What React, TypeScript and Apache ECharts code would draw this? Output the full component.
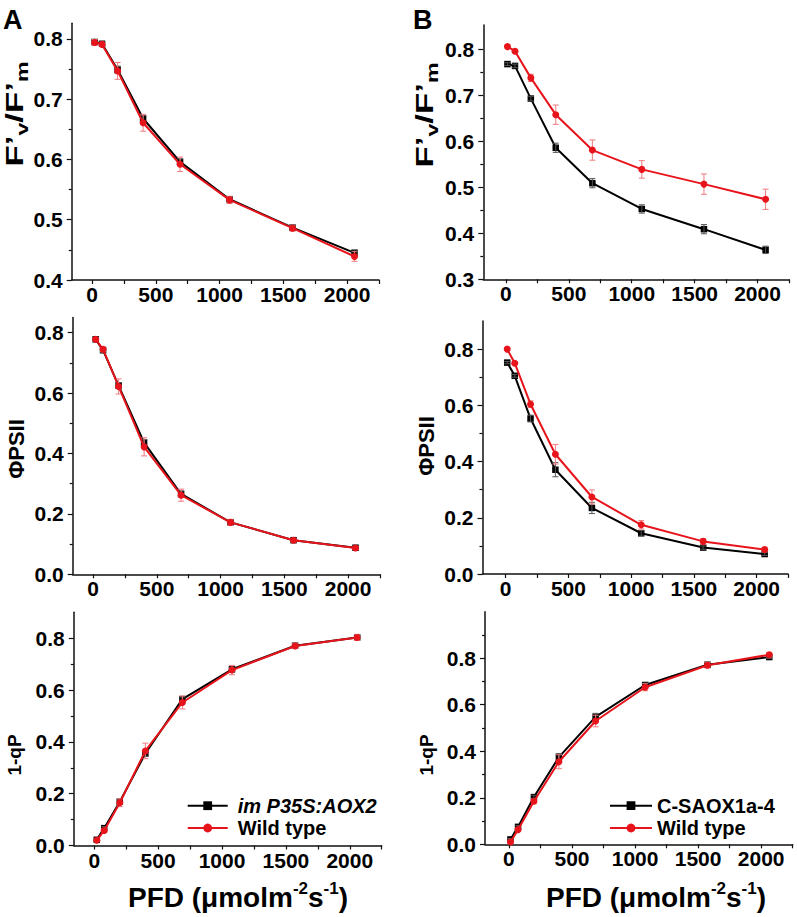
import React, { useEffect, useRef } from "react";
import * as echarts from "echarts";

// ---------- data ----------
const xA = [20, 78, 200, 400, 690, 1078, 1572, 2058];
const xB = [12, 72, 198, 396, 687, 1080, 1574, 2064];

const xTickValues = [0, 250, 500, 750, 1000, 1250, 1500, 1750, 2000, 2250];
const xLabelValues = [0, 500, 1000, 1500, 2000];

// Panel A (im P35S:AOX2 vs Wild type)
const fvfmA_T = [0.795, 0.792, 0.749, 0.668, 0.596, 0.534, 0.487, 0.445];
const fvfmA_W = [0.794, 0.791, 0.747, 0.661, 0.592, 0.533, 0.486, 0.439];
const fvfmA_Te = [0.004, 0.003, 0.006, 0.005, 0.005, 0.004, 0.004, 0.005];
const fvfmA_We = [0.005, 0.003, 0.014, 0.014, 0.012, 0.006, 0.005, 0.008];

const psiiA_T = [0.778, 0.742, 0.625, 0.436, 0.266, 0.172, 0.113, 0.088];
const psiiA_W = [0.778, 0.745, 0.622, 0.422, 0.262, 0.172, 0.113, 0.087];
const psiiA_Te = [0.005, 0.006, 0.01, 0.01, 0.01, 0.005, 0.004, 0.004];
const psiiA_We = [0.005, 0.008, 0.025, 0.03, 0.02, 0.01, 0.006, 0.005];

const qpA_T = [0.022, 0.067, 0.169, 0.355, 0.565, 0.68, 0.771, 0.803];
const qpA_W = [0.02, 0.058, 0.165, 0.365, 0.552, 0.677, 0.77, 0.803];
const qpA_Te = [0.004, 0.006, 0.01, 0.01, 0.008, 0.008, 0.006, 0.008];
const qpA_We = [0.004, 0.008, 0.015, 0.03, 0.025, 0.018, 0.01, 0.012];

// Panel B (C-SAOX1a-4 vs Wild type)
const fvfmB_T = [0.768, 0.764, 0.693, 0.586, 0.509, 0.453, 0.409, 0.364];
const fvfmB_W = [0.806, 0.796, 0.738, 0.658, 0.581, 0.539, 0.507, 0.474];
const fvfmB_Te = [0.003, 0.004, 0.005, 0.01, 0.01, 0.009, 0.01, 0.008];
const fvfmB_We = [0.003, 0.004, 0.008, 0.021, 0.022, 0.019, 0.022, 0.022];

const psiiB_T = [0.752, 0.705, 0.553, 0.371, 0.235, 0.145, 0.094, 0.071];
const psiiB_W = [0.8, 0.75, 0.604, 0.426, 0.274, 0.175, 0.116, 0.087];
const psiiB_Te = [0.004, 0.005, 0.012, 0.025, 0.02, 0.01, 0.006, 0.005];
const psiiB_We = [0.004, 0.005, 0.012, 0.035, 0.025, 0.015, 0.01, 0.008];

const qpB_T = [0.021, 0.075, 0.203, 0.375, 0.548, 0.685, 0.772, 0.805];
const qpB_W = [0.01, 0.063, 0.185, 0.355, 0.53, 0.675, 0.77, 0.815];
const qpB_Te = [0.004, 0.005, 0.008, 0.015, 0.015, 0.008, 0.01, 0.006];
const qpB_We = [0.004, 0.006, 0.01, 0.03, 0.025, 0.015, 0.012, 0.01];

const nameA = "im P35S:AOX2";
const nameB = "C-SAOX1a-4";
const nameWT = "Wild type";

const yMajorFv = [0.4, 0.5, 0.6, 0.7, 0.8];
const yMinorFv = [0.45, 0.55, 0.65, 0.75];
const yMajorFvB = [0.3, 0.4, 0.5, 0.6, 0.7, 0.8];
const yMinorFvB = [0.35, 0.45, 0.55, 0.65, 0.75];
const yMajor02 = [0, 0.2, 0.4, 0.6, 0.8];
const yMinor02 = [0.1, 0.3, 0.5, 0.7];
const yMinor02b = [0.1, 0.3, 0.5, 0.7, 0.9];

// ---------- layout / style ----------
const FONT = '"Liberation Sans", Arial, Helvetica, sans-serif';
const BLACK = "#000000";
const RED = "#e8141b";
const BLACK_ERR = "#555555";
const RED_ERR = "#f07a7e";

const panels = [
  { xs: xA, t: fvfmA_T, w: fvfmA_W, te: fvfmA_Te, we: fvfmA_We, tName: nameA,
    grid: { left: 71.7, top: 23.3, width: 307.3, height: 256.7 }, xMin: -160,
    yMin: 0.4, yMax: 0.826, yMajor: yMajorFv, yMinor: yMinorFv },
  { xs: xA, t: psiiA_T, w: psiiA_W, te: psiiA_Te, we: psiiA_We, tName: nameA,
    grid: { left: 72.7, top: 317.6, width: 307.3, height: 256.7 }, xMin: -160,
    yMin: 0, yMax: 0.85, yMajor: yMajor02, yMinor: yMinor02 },
  { xs: xA, t: qpA_T, w: qpA_W, te: qpA_Te, we: qpA_We, tName: nameA,
    grid: { left: 73.8, top: 612.3, width: 307.9, height: 233.2 }, xMin: -160,
    yMin: 0, yMax: 0.9, yMajor: yMajor02, yMinor: yMinor02 },
  { xs: xB, t: fvfmB_T, w: fvfmB_W, te: fvfmB_Te, we: fvfmB_We, tName: nameB,
    grid: { left: 483.3, top: 25, width: 305.7, height: 254.3 }, xMin: -180,
    yMin: 0.3, yMax: 0.853, yMajor: yMajorFvB, yMinor: yMinorFvB },
  { xs: xB, t: psiiB_T, w: psiiB_W, te: psiiB_Te, we: psiiB_We, tName: nameB,
    grid: { left: 482.5, top: 321, width: 305.5, height: 253 }, xMin: -185,
    yMin: 0, yMax: 0.9, yMajor: yMajor02, yMinor: yMinor02 },
  { xs: xB, t: qpB_T, w: qpB_W, te: qpB_Te, we: qpB_We, tName: nameB,
    grid: { left: 485, top: 611.7, width: 307.7, height: 232.6 }, xMin: -190,
    yMin: 0, yMax: 1.0, yMajor: yMajor02, yMinor: yMinor02b },
];

const axisLineStyle = { color: "#111", width: 1.5 };
const labelStyle = { fontSize: 21, fontWeight: "bold" as const, color: "#000", fontFamily: FONT };

function errSeries(name: string, xs: number[], ys: number[], es: number[], color: string, idx: number) {
  return {
    type: "custom",
    name,
    xAxisIndex: idx,
    yAxisIndex: idx * 2,
    z: 3,
    encode: { x: 0, y: [1, 2] },
    data: xs.map((x, i) => [x, ys[i] - es[i], ys[i] + es[i]]),
    renderItem: (params: any, api: any) => {
      const lo = api.coord([api.value(0), api.value(1)]);
      const hi = api.coord([api.value(0), api.value(2)]);
      const w = 3;
      const st = { stroke: color, lineWidth: 1 };
      return {
        type: "group",
        children: [
          { type: "line", shape: { x1: lo[0], y1: lo[1], x2: hi[0], y2: hi[1] }, style: st },
          { type: "line", shape: { x1: lo[0] - w, y1: lo[1], x2: lo[0] + w, y2: lo[1] }, style: st },
          { type: "line", shape: { x1: hi[0] - w, y1: hi[1], x2: hi[0] + w, y2: hi[1] }, style: st },
        ],
      };
    },
  };
}

function buildOption() {
  const grid = panels.map((p) => ({ ...p.grid }));
  const xAxis = panels.map((p, i) => ({
    type: "value",
    gridIndex: i,
    min: p.xMin,
    max: 2250,
    axisLine: { show: true, onZero: false, lineStyle: axisLineStyle },
    axisTick: { show: true, length: 4, customValues: xTickValues, lineStyle: { color: "#111", width: 1.2 } },
    axisLabel: {
      show: true,
      customValues: xLabelValues,
      margin: 4,
      formatter: (v: number) => String(Math.round(v)),
      ...labelStyle,
    },
    splitLine: { show: false },
  }));
  const yAxis: any[] = [];
  panels.forEach((p, i) => {
    yAxis.push({
      type: "value",
      gridIndex: i,
      position: "left",
      min: p.yMin,
      max: p.yMax,
      axisLine: { show: true, onZero: false, lineStyle: axisLineStyle },
      axisTick: { show: true, length: 5, customValues: p.yMajor, lineStyle: { color: "#111", width: 1.2 } },
      axisLabel: {
        show: true,
        customValues: p.yMajor,
        margin: 9,
        formatter: (v: number) => v.toFixed(1),
        ...labelStyle,
      },
      splitLine: { show: false },
    });
    yAxis.push({
      type: "value",
      gridIndex: i,
      position: "left",
      min: p.yMin,
      max: p.yMax,
      axisLine: { show: false, onZero: false },
      axisTick: { show: true, length: 3, customValues: p.yMinor, lineStyle: { color: "#111", width: 1.2 } },
      axisLabel: { show: false },
      splitLine: { show: false },
    });
  });

  const series: any[] = [];
  panels.forEach((p, i) => {
    series.push({
      type: "line",
      name: p.tName,
      xAxisIndex: i,
      yAxisIndex: i * 2,
      data: p.xs.map((x, k) => [x, p.t[k]]),
      symbol: "rect",
      symbolSize: 6.5,
      lineStyle: { color: BLACK, width: 2 },
      itemStyle: { color: BLACK },
      z: 2,
    });
    series.push(errSeries("errT" + i, p.xs, p.t, p.te, BLACK_ERR, i));
    series.push({
      type: "line",
      name: nameWT,
      xAxisIndex: i,
      yAxisIndex: i * 2,
      data: p.xs.map((x, k) => [x, p.w[k]]),
      symbol: "circle",
      symbolSize: 7,
      lineStyle: { color: RED, width: 2 },
      itemStyle: { color: RED },
      z: 4,
    });
    series.push(errSeries("errW" + i, p.xs, p.w, p.we, RED_ERR, i));
  });

  const legendRich = {
    it: { fontStyle: "italic", fontWeight: "bold", fontSize: 20, fontFamily: FONT, color: "#000", lineHeight: 22 },
    b: { fontWeight: "bold", fontSize: 20, fontFamily: FONT, color: "#000", lineHeight: 22 },
  };
  const legendFmt = (name: string) => (name === nameA ? `{it|${name}}` : `{b|${name}}`);
  const legend = [
    {
      data: [nameA, nameWT],
      orient: "vertical",
      left: 181.7,
      top: 790.7,
      itemWidth: 40,
      itemHeight: 11,
      itemGap: 2.3,
      selectedMode: false,
      formatter: legendFmt,
      textStyle: { rich: legendRich, padding: [0, 0, 0, 5] },
    },
    {
      data: [nameB, nameWT],
      orient: "vertical",
      left: 604,
      top: 790.7,
      itemWidth: 42,
      itemHeight: 11,
      itemGap: 2.3,
      selectedMode: false,
      formatter: legendFmt,
      textStyle: { rich: legendRich },
    },
  ];

  const titleRich = {
    a: { fontSize: 24, fontWeight: "bold", fontFamily: FONT, color: "#000", lineHeight: 30 },
    s: { fontSize: 16, fontWeight: "bold", fontFamily: FONT, color: "#000", lineHeight: 16, verticalAlign: "bottom" },
    p: { fontSize: 17, fontWeight: "bold", fontFamily: FONT, color: "#000", lineHeight: 17, verticalAlign: "top" },
    big: { fontSize: 28, fontWeight: "bold", fontFamily: FONT, color: "#000", lineHeight: 34 },
    y: { fontSize: 22, fontWeight: "bold", fontFamily: FONT, color: "#000", lineHeight: 24 },
    q: { fontSize: 19, fontWeight: "bold", fontFamily: FONT, color: "#000", lineHeight: 22 },
  };
  const yTitle = (text: string, x: number, y: number, scaleX = 1) => ({
    type: "text",
    x,
    y,
    rotation: Math.PI / 2,
    scaleX,
    style: { text, rich: titleRich, align: "center", verticalAlign: "middle" },
  });
  const fvText = "{a|F’}{s|v}{a|/F’}{s|m}";
  const pfdText = "{big|PFD (μmolm}{p|-2}{big|s}{p|-1}{big|)}";

  const graphic = [
    { type: "text", x: 3, y: 6, style: { text: "A", fontSize: 27, fontWeight: "bold", fontFamily: FONT, fill: "#000" } },
    { type: "text", x: 413, y: 6, style: { text: "B", fontSize: 27, fontWeight: "bold", fontFamily: FONT, fill: "#000" } },
    yTitle(fvText, 15, 114, 1.45),
    yTitle(fvText, 425, 115, 1.45),
    yTitle("{y|ΦPSII}", 16, 449),
    yTitle("{y|ΦPSII}", 426, 446),
    yTitle("{q|1-qP}", 14, 755),
    yTitle("{q|1-qP}", 426, 755),
    { type: "text", x: 238, y: 897, style: { text: pfdText, rich: titleRich, align: "center", verticalAlign: "middle" } },
    { type: "text", x: 656, y: 897, style: { text: pfdText, rich: titleRich, align: "center", verticalAlign: "middle" } },
  ];

  return {
    animation: false,
    backgroundColor: "#ffffff",
    textStyle: { fontFamily: FONT },
    grid,
    xAxis,
    yAxis,
    legend,
    series,
    graphic,
  };
}

export default function App() {
  const ref = useRef<HTMLDivElement>(null);
  useEffect(() => {
    if (!ref.current) return;
    const chart = echarts.init(ref.current, undefined, { renderer: "svg" });
    chart.setOption(buildOption() as any);
    return () => chart.dispose();
  }, []);
  return (
    <div
      ref={ref}
      style={{ position: "absolute", left: 0, top: 0, width: 797, height: 917, background: "#fff" }}
    />
  );
}
